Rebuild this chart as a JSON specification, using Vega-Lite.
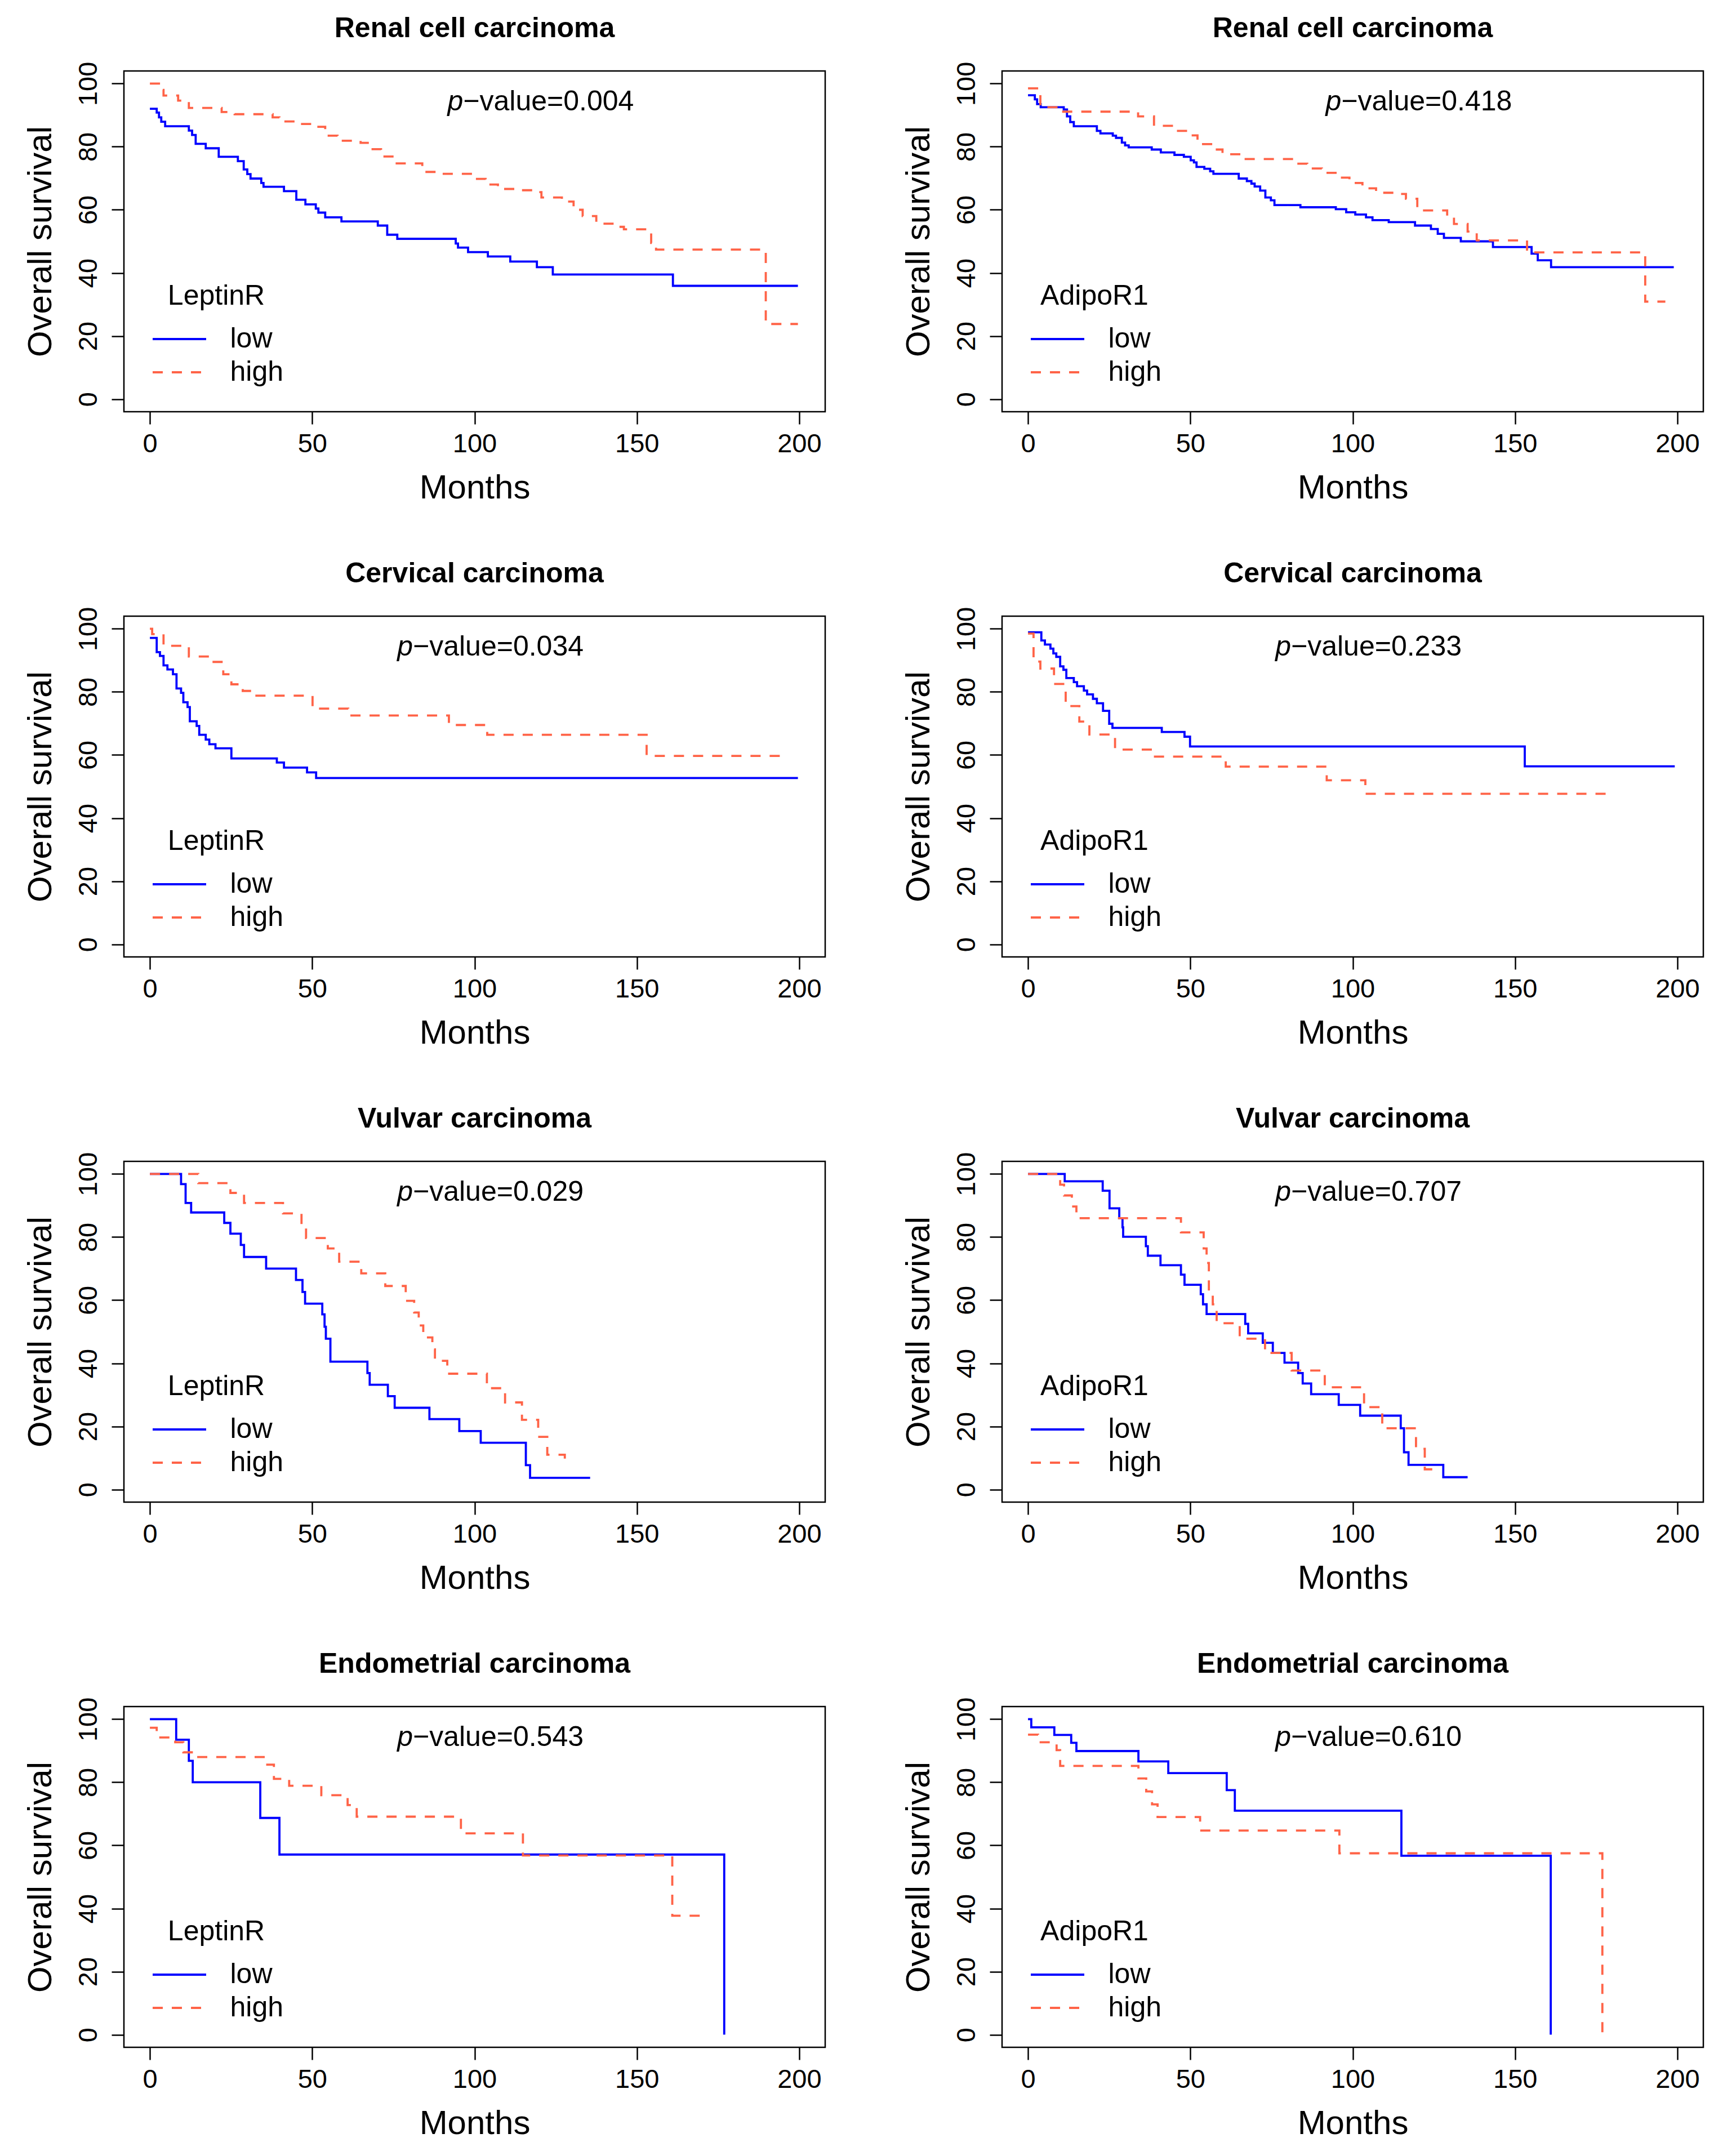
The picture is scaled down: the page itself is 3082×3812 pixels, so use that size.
{
  "$schema": "https://vega.github.io/schema/vega-lite/v6.json",
  "background": "white",
  "padding": {"left": 40, "top": 24, "right": 20, "bottom": 5},
  "datasets": {
    "km": [
      {"panel":"RL","group":"low","months":0,"survival":92},{"panel":"RL","group":"low","months":2.1,"survival":90.8},{"panel":"RL","group":"low","months":2.8,"survival":89.3},{"panel":"RL","group":"low","months":3.5,"survival":87.9},{"panel":"RL","group":"low","months":4.7,"survival":86.5},{"panel":"RL","group":"low","months":12.0,"survival":85.1},{"panel":"RL","group":"low","months":13.0,"survival":83.7},{"panel":"RL","group":"low","months":14.1,"survival":80.9},{"panel":"RL","group":"low","months":17.2,"survival":79.5},{"panel":"RL","group":"low","months":21.2,"survival":76.8},{"panel":"RL","group":"low","months":27.1,"survival":75.4},{"panel":"RL","group":"low","months":28.9,"survival":72.8},{"panel":"RL","group":"low","months":30.0,"survival":71.3},{"panel":"RL","group":"low","months":31.0,"survival":69.9},{"panel":"RL","group":"low","months":34.3,"survival":68.5},{"panel":"RL","group":"low","months":35.0,"survival":67.3},{"panel":"RL","group":"low","months":41.3,"survival":65.9},{"panel":"RL","group":"low","months":45.1,"survival":63.2},{"panel":"RL","group":"low","months":47.9,"survival":61.7},{"panel":"RL","group":"low","months":51.1,"survival":60.4},{"panel":"RL","group":"low","months":51.9,"survival":59.1},{"panel":"RL","group":"low","months":54.0,"survival":57.6},{"panel":"RL","group":"low","months":59.0,"survival":56.3},{"panel":"RL","group":"low","months":70.2,"survival":55.0},{"panel":"RL","group":"low","months":73.1,"survival":52.1},{"panel":"RL","group":"low","months":76.2,"survival":50.8},{"panel":"RL","group":"low","months":94.2,"survival":49.3},{"panel":"RL","group":"low","months":94.9,"survival":48.0},{"panel":"RL","group":"low","months":98.0,"survival":46.6},{"panel":"RL","group":"low","months":104.1,"survival":45.2},{"panel":"RL","group":"low","months":111.0,"survival":43.6},{"panel":"RL","group":"low","months":119.2,"survival":41.8},{"panel":"RL","group":"low","months":124.1,"survival":39.5},{"panel":"RL","group":"low","months":161.1,"survival":35.9},{"panel":"RL","group":"low","months":199.6,"survival":35.9},
      {"panel":"RL","group":"high","months":0,"survival":100},{"panel":"RL","group":"high","months":3.5,"survival":98.0},{"panel":"RL","group":"high","months":4.2,"survival":96.2},{"panel":"RL","group":"high","months":8.7,"survival":94.6},{"panel":"RL","group":"high","months":12.0,"survival":92.3},{"panel":"RL","group":"high","months":22.1,"survival":91.0},{"panel":"RL","group":"high","months":26.1,"survival":90.3},{"panel":"RL","group":"high","months":37.8,"survival":89.3},{"panel":"RL","group":"high","months":39.9,"survival":88.0},{"panel":"RL","group":"high","months":46.5,"survival":87.2},{"panel":"RL","group":"high","months":51.5,"survival":86.3},{"panel":"RL","group":"high","months":54.0,"survival":83.5},{"panel":"RL","group":"high","months":57.8,"survival":81.9},{"panel":"RL","group":"high","months":64.9,"survival":81.2},{"panel":"RL","group":"high","months":67.7,"survival":79.2},{"panel":"RL","group":"high","months":71.2,"survival":76.9},{"panel":"RL","group":"high","months":75.2,"survival":74.7},{"panel":"RL","group":"high","months":83.9,"survival":72.0},{"panel":"RL","group":"high","months":89.6,"survival":71.4},{"panel":"RL","group":"high","months":99.4,"survival":69.8},{"panel":"RL","group":"high","months":103.4,"survival":68.0},{"panel":"RL","group":"high","months":107.2,"survival":66.6},{"panel":"RL","group":"high","months":113.3,"survival":66.2},{"panel":"RL","group":"high","months":117.8,"survival":65.6},{"panel":"RL","group":"high","months":120.6,"survival":63.9},{"panel":"RL","group":"high","months":126.9,"survival":62.6},{"panel":"RL","group":"high","months":130.5,"survival":60.0},{"panel":"RL","group":"high","months":133.3,"survival":58.0},{"panel":"RL","group":"high","months":137.5,"survival":55.6},{"panel":"RL","group":"high","months":142.5,"survival":54.6},{"panel":"RL","group":"high","months":146.0,"survival":53.8},{"panel":"RL","group":"high","months":154.4,"survival":49.5},{"panel":"RL","group":"high","months":155.9,"survival":47.4},{"panel":"RL","group":"high","months":189.7,"survival":23.8},{"panel":"RL","group":"high","months":199.6,"survival":23.8},

      {"panel":"RA","group":"low","months":0,"survival":96.3},{"panel":"RA","group":"low","months":2.1,"survival":95.0},{"panel":"RA","group":"low","months":2.8,"survival":93.5},{"panel":"RA","group":"low","months":3.9,"survival":92.5},{"panel":"RA","group":"low","months":11.0,"survival":91.8},{"panel":"RA","group":"low","months":12.0,"survival":89.6},{"panel":"RA","group":"low","months":13.0,"survival":87.8},{"panel":"RA","group":"low","months":14.1,"survival":86.5},{"panel":"RA","group":"low","months":21.2,"survival":85.0},{"panel":"RA","group":"low","months":22.3,"survival":84.2},{"panel":"RA","group":"low","months":26.1,"survival":83.5},{"panel":"RA","group":"low","months":27.1,"survival":82.8},{"panel":"RA","group":"low","months":28.9,"survival":81.3},{"panel":"RA","group":"low","months":29.9,"survival":80.4},{"panel":"RA","group":"low","months":31.0,"survival":79.8},{"panel":"RA","group":"low","months":38.1,"survival":79.1},{"panel":"RA","group":"low","months":40.9,"survival":78.2},{"panel":"RA","group":"low","months":45.1,"survival":77.4},{"panel":"RA","group":"low","months":48.0,"survival":76.8},{"panel":"RA","group":"low","months":50.1,"survival":75.7},{"panel":"RA","group":"low","months":51.1,"survival":75.0},{"panel":"RA","group":"low","months":51.9,"survival":73.6},{"panel":"RA","group":"low","months":54.3,"survival":73.0},{"panel":"RA","group":"low","months":56.1,"survival":72.2},{"panel":"RA","group":"low","months":57.1,"survival":71.4},{"panel":"RA","group":"low","months":64.9,"survival":69.9},{"panel":"RA","group":"low","months":67.4,"survival":69.1},{"panel":"RA","group":"low","months":68.8,"survival":68.3},{"panel":"RA","group":"low","months":69.8,"survival":67.4},{"panel":"RA","group":"low","months":71.5,"survival":66.1},{"panel":"RA","group":"low","months":73.1,"survival":63.9},{"panel":"RA","group":"low","months":74.8,"survival":63.0},{"panel":"RA","group":"low","months":75.9,"survival":61.5},{"panel":"RA","group":"low","months":83.9,"survival":60.8},{"panel":"RA","group":"low","months":94.8,"survival":60.2},{"panel":"RA","group":"low","months":98.0,"survival":59.2},{"panel":"RA","group":"low","months":100.8,"survival":58.5},{"panel":"RA","group":"low","months":104.1,"survival":57.6},{"panel":"RA","group":"low","months":106.1,"survival":56.7},{"panel":"RA","group":"low","months":111.1,"survival":56.1},{"panel":"RA","group":"low","months":119.2,"survival":55.0},{"panel":"RA","group":"low","months":124.1,"survival":53.9},{"panel":"RA","group":"low","months":126.2,"survival":52.4},{"panel":"RA","group":"low","months":128.1,"survival":51.1},{"panel":"RA","group":"low","months":133.3,"survival":50.0},{"panel":"RA","group":"low","months":143.2,"survival":48.2},{"panel":"RA","group":"low","months":155.1,"survival":46.1},{"panel":"RA","group":"low","months":157.0,"survival":44.0},{"panel":"RA","group":"low","months":161.1,"survival":41.8},{"panel":"RA","group":"low","months":198.9,"survival":41.8},
      {"panel":"RA","group":"high","months":0,"survival":98.5},{"panel":"RA","group":"high","months":3.8,"survival":92.5},{"panel":"RA","group":"high","months":9.9,"survival":91.1},{"panel":"RA","group":"high","months":33.9,"survival":89.6},{"panel":"RA","group":"high","months":38.8,"survival":86.6},{"panel":"RA","group":"high","months":45.6,"survival":85.0},{"panel":"RA","group":"high","months":49.4,"survival":83.6},{"panel":"RA","group":"high","months":52.2,"survival":80.8},{"panel":"RA","group":"high","months":56.4,"survival":79.1},{"panel":"RA","group":"high","months":59.9,"survival":77.6},{"panel":"RA","group":"high","months":66.3,"survival":76.1},{"panel":"RA","group":"high","months":82.5,"survival":74.6},{"panel":"RA","group":"high","months":86.0,"survival":73.1},{"panel":"RA","group":"high","months":90.5,"survival":71.7},{"panel":"RA","group":"high","months":95.9,"survival":70.2},{"panel":"RA","group":"high","months":99.0,"survival":68.5},{"panel":"RA","group":"high","months":103.0,"survival":66.8},{"panel":"RA","group":"high","months":107.2,"survival":65.4},{"panel":"RA","group":"high","months":113.5,"survival":65.0},{"panel":"RA","group":"high","months":116.4,"survival":63.5},{"panel":"RA","group":"high","months":119.9,"survival":59.8},{"panel":"RA","group":"high","months":129.1,"survival":58.0},{"panel":"RA","group":"high","months":131.2,"survival":55.5},{"panel":"RA","group":"high","months":135.4,"survival":53.1},{"panel":"RA","group":"high","months":138.2,"survival":50.3},{"panel":"RA","group":"high","months":153.7,"survival":46.5},{"panel":"RA","group":"high","months":190.1,"survival":30.9},{"panel":"RA","group":"high","months":196.3,"survival":30.9},

      {"panel":"CL","group":"low","months":0,"survival":97.1},{"panel":"CL","group":"low","months":2.1,"survival":92.6},{"panel":"CL","group":"low","months":3.1,"survival":91.4},{"panel":"CL","group":"low","months":4.2,"survival":88.4},{"panel":"CL","group":"low","months":5.4,"survival":87.1},{"panel":"CL","group":"low","months":7.1,"survival":85.6},{"panel":"CL","group":"low","months":8.2,"survival":81.1},{"panel":"CL","group":"low","months":9.6,"survival":79.7},{"panel":"CL","group":"low","months":10.3,"survival":76.7},{"panel":"CL","group":"low","months":11.6,"survival":75.2},{"panel":"CL","group":"low","months":12.3,"survival":70.7},{"panel":"CL","group":"low","months":14.4,"survival":69.2},{"panel":"CL","group":"low","months":15.2,"survival":66.4},{"panel":"CL","group":"low","months":17.2,"survival":64.9},{"panel":"CL","group":"low","months":18.3,"survival":63.4},{"panel":"CL","group":"low","months":20.2,"survival":62.1},{"panel":"CL","group":"low","months":25.1,"survival":58.9},{"panel":"CL","group":"low","months":39.1,"survival":57.6},{"panel":"CL","group":"low","months":41.3,"survival":56.0},{"panel":"CL","group":"low","months":48.4,"survival":54.5},{"panel":"CL","group":"low","months":51.2,"survival":52.7},{"panel":"CL","group":"low","months":199.6,"survival":52.7},
      {"panel":"CL","group":"high","months":0,"survival":100},{"panel":"CL","group":"high","months":0.7,"survival":98.3},{"panel":"CL","group":"high","months":4.2,"survival":94.6},{"panel":"CL","group":"high","months":12.0,"survival":91.2},{"panel":"CL","group":"high","months":18.8,"survival":89.5},{"panel":"CL","group":"high","months":22.6,"survival":85.6},{"panel":"CL","group":"high","months":25.1,"survival":82.4},{"panel":"CL","group":"high","months":28.6,"survival":80.3},{"panel":"CL","group":"high","months":31.5,"survival":78.8},{"panel":"CL","group":"high","months":50.1,"survival":74.7},{"panel":"CL","group":"high","months":61.1,"survival":72.5},{"panel":"CL","group":"high","months":92.1,"survival":69.5},{"panel":"CL","group":"high","months":103.9,"survival":66.4},{"panel":"CL","group":"high","months":153.0,"survival":59.7},{"panel":"CL","group":"high","months":195.3,"survival":59.7},

      {"panel":"CA","group":"low","months":0,"survival":98.9},{"panel":"CA","group":"low","months":4.1,"survival":96.3},{"panel":"CA","group":"low","months":5.2,"survival":95.0},{"panel":"CA","group":"low","months":6.9,"survival":93.7},{"panel":"CA","group":"low","months":7.8,"survival":92.2},{"panel":"CA","group":"low","months":8.7,"survival":91.1},{"panel":"CA","group":"low","months":9.9,"survival":88.1},{"panel":"CA","group":"low","months":10.9,"survival":87.0},{"panel":"CA","group":"low","months":11.8,"survival":84.4},{"panel":"CA","group":"low","months":14.1,"survival":83.1},{"panel":"CA","group":"low","months":15.1,"survival":81.8},{"panel":"CA","group":"low","months":17.2,"survival":80.4},{"panel":"CA","group":"low","months":18.2,"survival":79.2},{"panel":"CA","group":"low","months":20.0,"survival":77.8},{"panel":"CA","group":"low","months":21.2,"survival":76.4},{"panel":"CA","group":"low","months":23.1,"survival":74.0},{"panel":"CA","group":"low","months":25.0,"survival":69.9},{"panel":"CA","group":"low","months":26.0,"survival":68.6},{"panel":"CA","group":"low","months":41.2,"survival":67.3},{"panel":"CA","group":"low","months":48.2,"survival":65.8},{"panel":"CA","group":"low","months":49.9,"survival":62.7},{"panel":"CA","group":"low","months":153.0,"survival":56.4},{"panel":"CA","group":"low","months":199.2,"survival":56.4},
      {"panel":"CA","group":"high","months":0,"survival":98.5},{"panel":"CA","group":"high","months":1.7,"survival":89.6},{"panel":"CA","group":"high","months":3.8,"survival":87.4},{"panel":"CA","group":"high","months":8.0,"survival":82.5},{"panel":"CA","group":"high","months":11.6,"survival":75.5},{"panel":"CA","group":"high","months":15.8,"survival":70.6},{"panel":"CA","group":"high","months":18.9,"survival":66.5},{"panel":"CA","group":"high","months":26.8,"survival":61.7},{"panel":"CA","group":"high","months":39.1,"survival":59.5},{"panel":"CA","group":"high","months":60.9,"survival":56.3},{"panel":"CA","group":"high","months":92.0,"survival":52.0},{"panel":"CA","group":"high","months":103.9,"survival":47.7},{"panel":"CA","group":"high","months":178.7,"survival":47.7},

      {"panel":"VL","group":"low","months":0,"survival":100},{"panel":"VL","group":"low","months":9.6,"survival":96.8},{"panel":"VL","group":"low","months":11.0,"survival":90.8},{"panel":"VL","group":"low","months":12.7,"survival":87.8},{"panel":"VL","group":"low","months":22.9,"survival":84.5},{"panel":"VL","group":"low","months":24.8,"survival":81.1},{"panel":"VL","group":"low","months":28.0,"survival":77.5},{"panel":"VL","group":"low","months":29.0,"survival":73.7},{"panel":"VL","group":"low","months":35.8,"survival":70.0},{"panel":"VL","group":"low","months":45.0,"survival":66.4},{"panel":"VL","group":"low","months":47.0,"survival":62.6},{"panel":"VL","group":"low","months":47.8,"survival":58.9},{"panel":"VL","group":"low","months":53.1,"survival":55.5},{"panel":"VL","group":"low","months":53.8,"survival":51.6},{"panel":"VL","group":"low","months":54.2,"survival":47.8},{"panel":"VL","group":"low","months":55.6,"survival":40.5},{"panel":"VL","group":"low","months":67.0,"survival":36.9},{"panel":"VL","group":"low","months":67.7,"survival":33.2},{"panel":"VL","group":"low","months":73.3,"survival":29.6},{"panel":"VL","group":"low","months":75.4,"survival":25.9},{"panel":"VL","group":"low","months":86.1,"survival":22.3},{"panel":"VL","group":"low","months":95.3,"survival":18.5},{"panel":"VL","group":"low","months":101.9,"survival":14.8},{"panel":"VL","group":"low","months":115.8,"survival":7.7},{"panel":"VL","group":"low","months":117.1,"survival":3.7},{"panel":"VL","group":"low","months":135.6,"survival":3.7},
      {"panel":"VL","group":"high","months":0,"survival":100},{"panel":"VL","group":"high","months":14.9,"survival":97.1},{"panel":"VL","group":"high","months":24.8,"survival":94.0},{"panel":"VL","group":"high","months":29.0,"survival":90.8},{"panel":"VL","group":"high","months":41.0,"survival":87.5},{"panel":"VL","group":"high","months":46.7,"survival":83.1},{"panel":"VL","group":"high","months":48.1,"survival":79.7},{"panel":"VL","group":"high","months":54.8,"survival":76.4},{"panel":"VL","group":"high","months":58.3,"survival":72.2},{"panel":"VL","group":"high","months":65.1,"survival":68.5},{"panel":"VL","group":"high","months":72.5,"survival":64.5},{"panel":"VL","group":"high","months":78.8,"survival":59.8},{"panel":"VL","group":"high","months":81.4,"survival":56.1},{"panel":"VL","group":"high","months":82.8,"survival":52.0},{"panel":"VL","group":"high","months":84.2,"survival":48.2},{"panel":"VL","group":"high","months":87.0,"survival":44.4},{"panel":"VL","group":"high","months":87.8,"survival":40.8},{"panel":"VL","group":"high","months":91.6,"survival":36.7},{"panel":"VL","group":"high","months":103.8,"survival":32.1},{"panel":"VL","group":"high","months":109.4,"survival":27.6},{"panel":"VL","group":"high","months":114.6,"survival":22.1},{"panel":"VL","group":"high","months":119.6,"survival":16.7},{"panel":"VL","group":"high","months":122.4,"survival":11.0},{"panel":"VL","group":"high","months":127.8,"survival":7.7},

      {"panel":"VA","group":"low","months":0,"survival":100},{"panel":"VA","group":"low","months":11.3,"survival":97.7},{"panel":"VA","group":"low","months":23.0,"survival":94.7},{"panel":"VA","group":"low","months":25.1,"survival":89.1},{"panel":"VA","group":"low","months":28.1,"survival":86.0},{"panel":"VA","group":"low","months":29.1,"survival":83.1},{"panel":"VA","group":"low","months":29.3,"survival":80.1},{"panel":"VA","group":"low","months":36.3,"survival":77.1},{"panel":"VA","group":"low","months":36.9,"survival":74.1},{"panel":"VA","group":"low","months":40.8,"survival":71.1},{"panel":"VA","group":"low","months":47.1,"survival":68.1},{"panel":"VA","group":"low","months":48.2,"survival":64.9},{"panel":"VA","group":"low","months":53.2,"survival":61.9},{"panel":"VA","group":"low","months":53.9,"survival":58.7},{"panel":"VA","group":"low","months":55.0,"survival":55.6},{"panel":"VA","group":"low","months":66.9,"survival":52.5},{"panel":"VA","group":"low","months":67.8,"survival":49.5},{"panel":"VA","group":"low","months":72.3,"survival":46.5},{"panel":"VA","group":"low","months":75.4,"survival":43.3},{"panel":"VA","group":"low","months":79.0,"survival":40.2},{"panel":"VA","group":"low","months":83.2,"survival":36.9},{"panel":"VA","group":"low","months":84.6,"survival":33.6},{"panel":"VA","group":"low","months":87.2,"survival":30.2},{"panel":"VA","group":"low","months":95.7,"survival":26.8},{"panel":"VA","group":"low","months":102.3,"survival":23.4},{"panel":"VA","group":"low","months":114.8,"survival":19.4},{"panel":"VA","group":"low","months":115.8,"survival":11.8},{"panel":"VA","group":"low","months":117.2,"survival":7.8},{"panel":"VA","group":"low","months":127.9,"survival":3.9},{"panel":"VA","group":"low","months":135.4,"survival":3.9},
      {"panel":"VA","group":"high","months":0,"survival":100},{"panel":"VA","group":"high","months":9.9,"survival":96.6},{"panel":"VA","group":"high","months":11.1,"survival":93.2},{"panel":"VA","group":"high","months":13.5,"survival":89.7},{"panel":"VA","group":"high","months":14.9,"survival":86.0},{"panel":"VA","group":"high","months":47.1,"survival":81.5},{"panel":"VA","group":"high","months":54.1,"survival":76.4},{"panel":"VA","group":"high","months":55.0,"survival":71.8},{"panel":"VA","group":"high","months":55.7,"survival":62.8},{"panel":"VA","group":"high","months":56.9,"survival":58.7},{"panel":"VA","group":"high","months":58.1,"survival":52.7},{"panel":"VA","group":"high","months":65.2,"survival":47.8},{"panel":"VA","group":"high","months":73.0,"survival":43.3},{"panel":"VA","group":"high","months":81.2,"survival":37.7},{"panel":"VA","group":"high","months":91.4,"survival":32.4},{"panel":"VA","group":"high","months":103.5,"survival":26.1},{"panel":"VA","group":"high","months":109.1,"survival":19.4},{"panel":"VA","group":"high","months":119.5,"survival":12.9},{"panel":"VA","group":"high","months":122.2,"survival":6.4},{"panel":"VA","group":"high","months":126.9,"survival":6.4},

      {"panel":"EL","group":"low","months":0,"survival":100},{"panel":"EL","group":"low","months":8.1,"survival":93.5},{"panel":"EL","group":"low","months":12.0,"survival":86.8},{"panel":"EL","group":"low","months":13.2,"survival":80.0},{"panel":"EL","group":"low","months":34.0,"survival":68.7},{"panel":"EL","group":"low","months":39.9,"survival":57.1},{"panel":"EL","group":"low","months":176.9,"survival":0},
      {"panel":"EL","group":"high","months":0,"survival":97.3},{"panel":"EL","group":"high","months":2.1,"survival":94.2},{"panel":"EL","group":"high","months":7.8,"survival":92.7},{"panel":"EL","group":"high","months":10.3,"survival":89.5},{"panel":"EL","group":"high","months":14.9,"survival":88.0},{"panel":"EL","group":"high","months":35.4,"survival":85.6},{"panel":"EL","group":"high","months":38.2,"survival":81.1},{"panel":"EL","group":"high","months":42.9,"survival":78.9},{"panel":"EL","group":"high","months":52.8,"survival":75.9},{"panel":"EL","group":"high","months":60.9,"survival":72.8},{"panel":"EL","group":"high","months":63.7,"survival":69.1},{"panel":"EL","group":"high","months":95.8,"survival":63.8},{"panel":"EL","group":"high","months":114.9,"survival":56.8},{"panel":"EL","group":"high","months":160.9,"survival":37.7},{"panel":"EL","group":"high","months":171.3,"survival":37.7},

      {"panel":"EA","group":"low","months":0,"survival":100},{"panel":"EA","group":"low","months":1.0,"survival":97.4},{"panel":"EA","group":"low","months":8.1,"survival":95.0},{"panel":"EA","group":"low","months":13.3,"survival":92.5},{"panel":"EA","group":"low","months":14.9,"survival":89.9},{"panel":"EA","group":"low","months":34.0,"survival":86.6},{"panel":"EA","group":"low","months":43.2,"survival":82.9},{"panel":"EA","group":"low","months":61.2,"survival":77.5},{"panel":"EA","group":"low","months":63.7,"survival":71.0},{"panel":"EA","group":"low","months":115.0,"survival":56.7},{"panel":"EA","group":"low","months":161.0,"survival":0},
      {"panel":"EA","group":"high","months":0,"survival":95.1},{"panel":"EA","group":"high","months":3.1,"survival":92.7},{"panel":"EA","group":"high","months":8.8,"survival":90.2},{"panel":"EA","group":"high","months":9.9,"survival":85.2},{"panel":"EA","group":"high","months":34.0,"survival":81.2},{"panel":"EA","group":"high","months":36.4,"survival":77.1},{"panel":"EA","group":"high","months":38.2,"survival":73.0},{"panel":"EA","group":"high","months":39.9,"survival":69.0},{"panel":"EA","group":"high","months":53.0,"survival":64.7},{"panel":"EA","group":"high","months":95.9,"survival":57.5},{"panel":"EA","group":"high","months":176.9,"survival":0}
    ],
    "pv": [
      {"panel":"RL","label":"−value=0.004"},
      {"panel":"RA","label":"−value=0.418"},
      {"panel":"CL","label":"−value=0.034"},
      {"panel":"CA","label":"−value=0.233"},
      {"panel":"VL","label":"−value=0.029"},
      {"panel":"VA","label":"−value=0.707"},
      {"panel":"EL","label":"−value=0.543"},
      {"panel":"EA","label":"−value=0.610"}
    ]
  },
  "columns": 2,
  "spacing": {"row": 94, "column": 132},
  "resolve": {
    "scale": {"color": "independent", "strokeDash": "independent"},
    "legend": {"color": "independent", "strokeDash": "independent"}
  },
  "concat": [
    {
      "title": "Renal cell carcinoma", "width": 1245, "height": 605,
      "layer": [
        {"data": {"name": "km"}, "transform": [{"filter": "datum.panel === 'RL'"}],
         "mark": {"type": "line", "interpolate": "step-after", "strokeWidth": 3.8},
         "encoding": {
           "x": {"field": "months", "type": "quantitative", "scale": {"domain": [-8, 208], "nice": false, "zero": false}, "axis": {"values": [0, 50, 100, 150, 200], "title": "Months"}},
           "y": {"field": "survival", "type": "quantitative", "scale": {"domain": [-4, 104], "nice": false, "zero": false}, "axis": {"values": [0, 20, 40, 60, 80, 100], "title": "Overall survival"}},
           "color": {"field": "group", "type": "nominal", "scale": {"domain": ["low", "high"], "range": ["#0000ff", "#ff6347"]}, "legend": {"title": "LeptinR"}},
           "strokeDash": {"field": "group", "type": "nominal", "scale": {"domain": ["low", "high"], "range": [[1, 0], [18, 16]]}, "legend": {"title": "LeptinR"}}
         }},
        {"data": {"name": "pv"}, "transform": [{"filter": "datum.panel === 'RL'"}],
         "mark": {"type": "text", "text": "p", "fontStyle": "italic", "align": "right", "baseline": "alphabetic", "fontSize": 50},
         "encoding": {"x": {"datum": 96.5}, "y": {"datum": 91.5}}},
        {"data": {"name": "pv"}, "transform": [{"filter": "datum.panel === 'RL'"}],
         "mark": {"type": "text", "align": "left", "baseline": "alphabetic", "fontSize": 50},
         "encoding": {"x": {"datum": 96.5}, "y": {"datum": 91.5}, "text": {"field": "label"}}}
      ]
    },
    {
      "title": "Renal cell carcinoma", "width": 1245, "height": 605,
      "layer": [
        {"data": {"name": "km"}, "transform": [{"filter": "datum.panel === 'RA'"}],
         "mark": {"type": "line", "interpolate": "step-after", "strokeWidth": 3.8},
         "encoding": {
           "x": {"field": "months", "type": "quantitative", "scale": {"domain": [-8, 208], "nice": false, "zero": false}, "axis": {"values": [0, 50, 100, 150, 200], "title": "Months"}},
           "y": {"field": "survival", "type": "quantitative", "scale": {"domain": [-4, 104], "nice": false, "zero": false}, "axis": {"values": [0, 20, 40, 60, 80, 100], "title": "Overall survival"}},
           "color": {"field": "group", "type": "nominal", "scale": {"domain": ["low", "high"], "range": ["#0000ff", "#ff6347"]}, "legend": {"title": "AdipoR1"}},
           "strokeDash": {"field": "group", "type": "nominal", "scale": {"domain": ["low", "high"], "range": [[1, 0], [18, 16]]}, "legend": {"title": "AdipoR1"}}
         }},
        {"data": {"name": "pv"}, "transform": [{"filter": "datum.panel === 'RA'"}],
         "mark": {"type": "text", "text": "p", "fontStyle": "italic", "align": "right", "baseline": "alphabetic", "fontSize": 50},
         "encoding": {"x": {"datum": 96.5}, "y": {"datum": 91.5}}},
        {"data": {"name": "pv"}, "transform": [{"filter": "datum.panel === 'RA'"}],
         "mark": {"type": "text", "align": "left", "baseline": "alphabetic", "fontSize": 50},
         "encoding": {"x": {"datum": 96.5}, "y": {"datum": 91.5}, "text": {"field": "label"}}}
      ]
    },
    {
      "title": "Cervical carcinoma", "width": 1245, "height": 605,
      "layer": [
        {"data": {"name": "km"}, "transform": [{"filter": "datum.panel === 'CL'"}],
         "mark": {"type": "line", "interpolate": "step-after", "strokeWidth": 3.8},
         "encoding": {
           "x": {"field": "months", "type": "quantitative", "scale": {"domain": [-8, 208], "nice": false, "zero": false}, "axis": {"values": [0, 50, 100, 150, 200], "title": "Months"}},
           "y": {"field": "survival", "type": "quantitative", "scale": {"domain": [-4, 104], "nice": false, "zero": false}, "axis": {"values": [0, 20, 40, 60, 80, 100], "title": "Overall survival"}},
           "color": {"field": "group", "type": "nominal", "scale": {"domain": ["low", "high"], "range": ["#0000ff", "#ff6347"]}, "legend": {"title": "LeptinR"}},
           "strokeDash": {"field": "group", "type": "nominal", "scale": {"domain": ["low", "high"], "range": [[1, 0], [18, 16]]}, "legend": {"title": "LeptinR"}}
         }},
        {"data": {"name": "pv"}, "transform": [{"filter": "datum.panel === 'CL'"}],
         "mark": {"type": "text", "text": "p", "fontStyle": "italic", "align": "right", "baseline": "alphabetic", "fontSize": 50},
         "encoding": {"x": {"datum": 81}, "y": {"datum": 91.5}}},
        {"data": {"name": "pv"}, "transform": [{"filter": "datum.panel === 'CL'"}],
         "mark": {"type": "text", "align": "left", "baseline": "alphabetic", "fontSize": 50},
         "encoding": {"x": {"datum": 81}, "y": {"datum": 91.5}, "text": {"field": "label"}}}
      ]
    },
    {
      "title": "Cervical carcinoma", "width": 1245, "height": 605,
      "layer": [
        {"data": {"name": "km"}, "transform": [{"filter": "datum.panel === 'CA'"}],
         "mark": {"type": "line", "interpolate": "step-after", "strokeWidth": 3.8},
         "encoding": {
           "x": {"field": "months", "type": "quantitative", "scale": {"domain": [-8, 208], "nice": false, "zero": false}, "axis": {"values": [0, 50, 100, 150, 200], "title": "Months"}},
           "y": {"field": "survival", "type": "quantitative", "scale": {"domain": [-4, 104], "nice": false, "zero": false}, "axis": {"values": [0, 20, 40, 60, 80, 100], "title": "Overall survival"}},
           "color": {"field": "group", "type": "nominal", "scale": {"domain": ["low", "high"], "range": ["#0000ff", "#ff6347"]}, "legend": {"title": "AdipoR1"}},
           "strokeDash": {"field": "group", "type": "nominal", "scale": {"domain": ["low", "high"], "range": [[1, 0], [18, 16]]}, "legend": {"title": "AdipoR1"}}
         }},
        {"data": {"name": "pv"}, "transform": [{"filter": "datum.panel === 'CA'"}],
         "mark": {"type": "text", "text": "p", "fontStyle": "italic", "align": "right", "baseline": "alphabetic", "fontSize": 50},
         "encoding": {"x": {"datum": 81}, "y": {"datum": 91.5}}},
        {"data": {"name": "pv"}, "transform": [{"filter": "datum.panel === 'CA'"}],
         "mark": {"type": "text", "align": "left", "baseline": "alphabetic", "fontSize": 50},
         "encoding": {"x": {"datum": 81}, "y": {"datum": 91.5}, "text": {"field": "label"}}}
      ]
    },
    {
      "title": "Vulvar carcinoma", "width": 1245, "height": 605,
      "layer": [
        {"data": {"name": "km"}, "transform": [{"filter": "datum.panel === 'VL'"}],
         "mark": {"type": "line", "interpolate": "step-after", "strokeWidth": 3.8},
         "encoding": {
           "x": {"field": "months", "type": "quantitative", "scale": {"domain": [-8, 208], "nice": false, "zero": false}, "axis": {"values": [0, 50, 100, 150, 200], "title": "Months"}},
           "y": {"field": "survival", "type": "quantitative", "scale": {"domain": [-4, 104], "nice": false, "zero": false}, "axis": {"values": [0, 20, 40, 60, 80, 100], "title": "Overall survival"}},
           "color": {"field": "group", "type": "nominal", "scale": {"domain": ["low", "high"], "range": ["#0000ff", "#ff6347"]}, "legend": {"title": "LeptinR"}},
           "strokeDash": {"field": "group", "type": "nominal", "scale": {"domain": ["low", "high"], "range": [[1, 0], [18, 16]]}, "legend": {"title": "LeptinR"}}
         }},
        {"data": {"name": "pv"}, "transform": [{"filter": "datum.panel === 'VL'"}],
         "mark": {"type": "text", "text": "p", "fontStyle": "italic", "align": "right", "baseline": "alphabetic", "fontSize": 50},
         "encoding": {"x": {"datum": 81}, "y": {"datum": 91.5}}},
        {"data": {"name": "pv"}, "transform": [{"filter": "datum.panel === 'VL'"}],
         "mark": {"type": "text", "align": "left", "baseline": "alphabetic", "fontSize": 50},
         "encoding": {"x": {"datum": 81}, "y": {"datum": 91.5}, "text": {"field": "label"}}}
      ]
    },
    {
      "title": "Vulvar carcinoma", "width": 1245, "height": 605,
      "layer": [
        {"data": {"name": "km"}, "transform": [{"filter": "datum.panel === 'VA'"}],
         "mark": {"type": "line", "interpolate": "step-after", "strokeWidth": 3.8},
         "encoding": {
           "x": {"field": "months", "type": "quantitative", "scale": {"domain": [-8, 208], "nice": false, "zero": false}, "axis": {"values": [0, 50, 100, 150, 200], "title": "Months"}},
           "y": {"field": "survival", "type": "quantitative", "scale": {"domain": [-4, 104], "nice": false, "zero": false}, "axis": {"values": [0, 20, 40, 60, 80, 100], "title": "Overall survival"}},
           "color": {"field": "group", "type": "nominal", "scale": {"domain": ["low", "high"], "range": ["#0000ff", "#ff6347"]}, "legend": {"title": "AdipoR1"}},
           "strokeDash": {"field": "group", "type": "nominal", "scale": {"domain": ["low", "high"], "range": [[1, 0], [18, 16]]}, "legend": {"title": "AdipoR1"}}
         }},
        {"data": {"name": "pv"}, "transform": [{"filter": "datum.panel === 'VA'"}],
         "mark": {"type": "text", "text": "p", "fontStyle": "italic", "align": "right", "baseline": "alphabetic", "fontSize": 50},
         "encoding": {"x": {"datum": 81}, "y": {"datum": 91.5}}},
        {"data": {"name": "pv"}, "transform": [{"filter": "datum.panel === 'VA'"}],
         "mark": {"type": "text", "align": "left", "baseline": "alphabetic", "fontSize": 50},
         "encoding": {"x": {"datum": 81}, "y": {"datum": 91.5}, "text": {"field": "label"}}}
      ]
    },
    {
      "title": "Endometrial carcinoma", "width": 1245, "height": 605,
      "layer": [
        {"data": {"name": "km"}, "transform": [{"filter": "datum.panel === 'EL'"}],
         "mark": {"type": "line", "interpolate": "step-after", "strokeWidth": 3.8},
         "encoding": {
           "x": {"field": "months", "type": "quantitative", "scale": {"domain": [-8, 208], "nice": false, "zero": false}, "axis": {"values": [0, 50, 100, 150, 200], "title": "Months"}},
           "y": {"field": "survival", "type": "quantitative", "scale": {"domain": [-4, 104], "nice": false, "zero": false}, "axis": {"values": [0, 20, 40, 60, 80, 100], "title": "Overall survival"}},
           "color": {"field": "group", "type": "nominal", "scale": {"domain": ["low", "high"], "range": ["#0000ff", "#ff6347"]}, "legend": {"title": "LeptinR"}},
           "strokeDash": {"field": "group", "type": "nominal", "scale": {"domain": ["low", "high"], "range": [[1, 0], [18, 16]]}, "legend": {"title": "LeptinR"}}
         }},
        {"data": {"name": "pv"}, "transform": [{"filter": "datum.panel === 'EL'"}],
         "mark": {"type": "text", "text": "p", "fontStyle": "italic", "align": "right", "baseline": "alphabetic", "fontSize": 50},
         "encoding": {"x": {"datum": 81}, "y": {"datum": 91.5}}},
        {"data": {"name": "pv"}, "transform": [{"filter": "datum.panel === 'EL'"}],
         "mark": {"type": "text", "align": "left", "baseline": "alphabetic", "fontSize": 50},
         "encoding": {"x": {"datum": 81}, "y": {"datum": 91.5}, "text": {"field": "label"}}}
      ]
    },
    {
      "title": "Endometrial carcinoma", "width": 1245, "height": 605,
      "layer": [
        {"data": {"name": "km"}, "transform": [{"filter": "datum.panel === 'EA'"}],
         "mark": {"type": "line", "interpolate": "step-after", "strokeWidth": 3.8},
         "encoding": {
           "x": {"field": "months", "type": "quantitative", "scale": {"domain": [-8, 208], "nice": false, "zero": false}, "axis": {"values": [0, 50, 100, 150, 200], "title": "Months"}},
           "y": {"field": "survival", "type": "quantitative", "scale": {"domain": [-4, 104], "nice": false, "zero": false}, "axis": {"values": [0, 20, 40, 60, 80, 100], "title": "Overall survival"}},
           "color": {"field": "group", "type": "nominal", "scale": {"domain": ["low", "high"], "range": ["#0000ff", "#ff6347"]}, "legend": {"title": "AdipoR1"}},
           "strokeDash": {"field": "group", "type": "nominal", "scale": {"domain": ["low", "high"], "range": [[1, 0], [18, 16]]}, "legend": {"title": "AdipoR1"}}
         }},
        {"data": {"name": "pv"}, "transform": [{"filter": "datum.panel === 'EA'"}],
         "mark": {"type": "text", "text": "p", "fontStyle": "italic", "align": "right", "baseline": "alphabetic", "fontSize": 50},
         "encoding": {"x": {"datum": 81}, "y": {"datum": 91.5}}},
        {"data": {"name": "pv"}, "transform": [{"filter": "datum.panel === 'EA'"}],
         "mark": {"type": "text", "align": "left", "baseline": "alphabetic", "fontSize": 50},
         "encoding": {"x": {"datum": 81}, "y": {"datum": 91.5}, "text": {"field": "label"}}}
      ]
    }
  ],
  "config": {
    "font": "Liberation Sans",
    "view": {"stroke": "black", "strokeWidth": 2.5},
    "axis": {"grid": false, "domain": false, "ticks": true, "tickColor": "black", "tickWidth": 2.5, "tickSize": 22,
             "labelFont": "Liberation Sans", "labelFontSize": 47, "labelColor": "black", "labelOverlap": false,
             "titleFont": "Liberation Sans", "titleFontSize": 60, "titleFontWeight": "normal", "titleColor": "black"},
    "axisX": {"labelPadding": 12, "titlePadding": 26, "labelFlush": false},
    "axisY": {"labelAngle": -90, "labelAlign": "center", "labelBaseline": "alphabetic", "labelPadding": 27, "titlePadding": 30},
    "title": {"font": "Liberation Sans", "fontSize": 50, "fontWeight": "bold", "color": "black", "offset": 33, "anchor": "middle"},
    "legend": {"orient": "bottom-left", "offset": 45, "padding": 0,
               "titleFont": "Liberation Sans", "titleFontSize": 50, "titleFontWeight": "normal", "titleColor": "black", "titleAnchor": "middle", "titlePadding": 26, "titleLimit": 600,
               "labelFont": "Liberation Sans", "labelFontSize": 50, "labelColor": "black", "labelLimit": 600,
               "symbolType": "M-2.5,0H2.5", "symbolSize": 1444, "symbolStrokeWidth": 3.8, "symbolOffset": 28.5, "labelOffset": 65, "rowPadding": 9},
    "text": {"font": "Liberation Sans", "color": "black"}
  }
}
